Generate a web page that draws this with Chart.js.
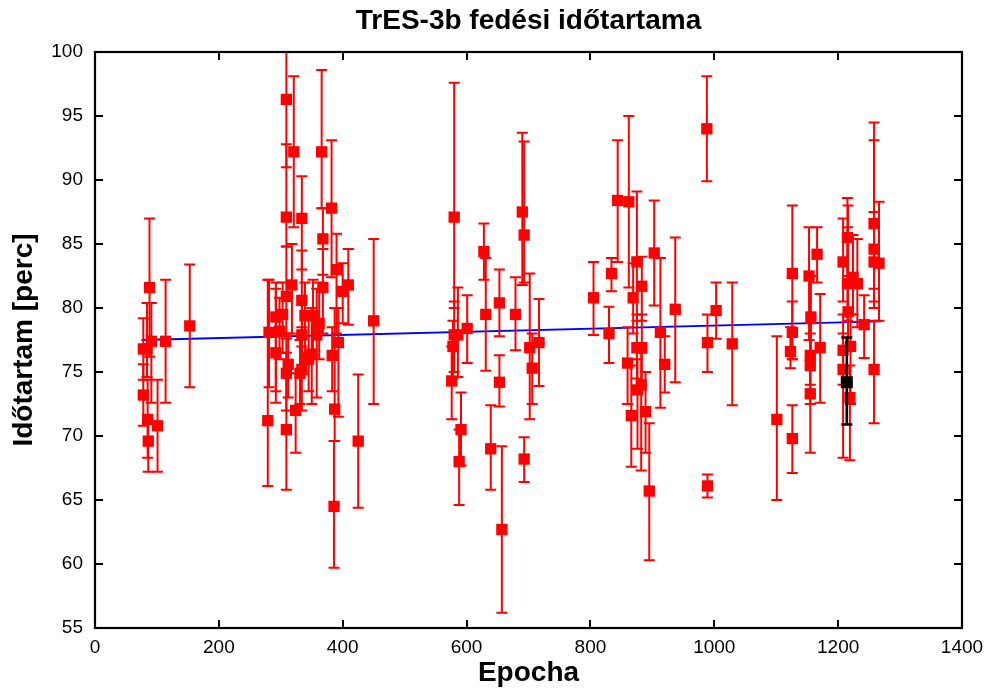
<!DOCTYPE html>
<html>
<head>
<meta charset="utf-8">
<script src="https://cdn.jsdelivr.net/npm/chart.js@4.4.1/dist/chart.umd.min.js"></script>
<style>
  html, body { margin: 0; padding: 0; background: #ffffff; }
  #wrap { width: 985px; height: 690px; }
</style>
</head>
<body>
<div id="wrap"><canvas id="c" width="985" height="690"></canvas></div>
<script>
// ---- data ----
const epochs = [
  78, 78, 88, 84, 91, 85, 86, 101, 114, 153,
  281, 279, 292, 292, 298, 303, 309, 309, 309, 309, 309, 312, 318, 321, 324,
  334, 334, 334, 334, 331, 339, 345, 350, 352, 358, 362, 366, 368, 368, 382,
  383, 387, 386, 390, 393, 400, 409, 425, 450,
  580, 580, 576, 578, 586, 591, 588, 601, 628, 631, 639, 653, 653, 657, 679,
  690, 693, 693, 702, 706, 717,
  805, 830, 834, 844, 862, 860, 866, 869, 875, 875, 876, 883, 883, 882, 889,
  895, 903, 913, 920, 937, 988, 989, 989, 1003, 1029,
  1101, 1126, 1126, 1123, 1126, 1153, 1156, 1155, 1155, 1155, 1166, 1171,
  1208, 1208, 1208, 1215, 1215, 1216, 1224, 1231, 1220, 1219, 1242,
  1258, 1258, 1258, 1266, 1258
];
const durations = [
  76.8, 73.2, 81.6, 76.8, 77.4, 71.3, 69.6, 70.8, 77.4, 78.6,
  78.1, 71.2, 79.3, 76.5, 78.2, 79.5, 96.3, 87.1, 80.9, 70.5, 74.9, 75.6, 81.8, 92.2, 72.0,
  87.0, 80.6, 75.2, 77.9, 74.9, 79.4, 76.0, 76.4, 79.4, 77.9, 78.8, 92.2, 85.4, 81.6, 87.8,
  76.3, 72.1, 64.5, 83.0, 77.3, 81.3, 81.8, 69.6, 79.0,
  87.1, 77.9, 74.3, 77.0, 77.9, 70.5, 68.0, 78.4, 84.4, 79.5, 69.0, 80.4, 74.2, 62.7, 79.5,
  87.5, 85.7, 68.2, 76.9, 75.3, 77.3,
  80.8, 78.0, 82.7, 88.4, 88.3, 75.7, 71.6, 80.8, 83.6, 76.9, 73.6, 81.7, 76.9, 74.0, 71.9,
  65.7, 84.3, 78.1, 75.6, 79.9, 94.0, 77.3, 66.1, 79.8, 77.2,
  71.3, 82.7, 78.1, 76.6, 69.8, 82.5, 79.3, 76.3, 75.5, 73.3, 84.2, 76.9,
  83.6, 76.7, 75.2, 85.5, 81.9, 79.7, 82.4, 81.9, 77.0, 73.0, 78.7,
  86.6, 84.6, 83.6, 83.5, 75.2
];
const errLow = [
  74.4, 70.8, 76.2, 74.6, 72.6, 68.3, 67.2, 67.2, 72.6, 73.8,
  73.8, 66.1, 73.5, 72.6, 76.0, 76.5, 91.0, 84.8, 77.8, 65.8, 72.0, 73.0, 78.0, 86.3, 68.7,
  83.0, 77.0, 72.0, 75.0, 72.5, 76.5, 73.5, 72.5, 76.3, 73.0, 76.0, 87.8, 82.6, 78.0, 82.4,
  73.5, 69.6, 59.7, 78.0, 71.5, 78.8, 78.7, 64.4, 72.5,
  80.0, 75.0, 71.3, 74.5, 74.6, 67.7, 64.6, 75.7, 82.2, 75.1, 65.8, 77.8, 72.3, 56.2, 76.7,
  81.8, 82.0, 66.4, 71.3, 72.5, 73.9,
  77.9, 75.7, 81.3, 83.6, 81.6, 72.5, 67.6, 78.0, 79.0, 74.5, 69.0, 79.0, 74.0, 67.3, 68.7,
  60.3, 80.2, 72.2, 73.4, 74.2, 89.9, 75.0, 65.2, 77.6, 72.4,
  65.0, 76.0, 76.0, 75.3, 67.1, 77.5, 76.5, 74.0, 72.5, 68.7, 82.0, 72.6,
  80.5, 74.0, 68.3, 82.5, 79.0, 77.0, 79.5, 78.5, 72.5, 68.1, 76.1,
  80.0, 81.5, 80.5, 79.0, 71.0
];
const errHigh = [
  79.2, 75.6, 87.0, 80.4, 80.4, 74.4, 71.3, 74.4, 82.2, 83.4,
  82.2, 82.2, 82.0, 81.5, 80.8, 82.0, 100.0, 92.8, 84.8, 76.5, 77.6, 78.0, 85.0, 98.1, 74.9,
  90.3, 84.5, 78.5, 80.8, 77.5, 82.0, 79.5, 80.0, 82.2, 81.5, 82.0, 98.6, 87.8, 84.6, 93.1,
  78.5, 80.0, 69.6, 85.8, 80.0, 83.5, 84.6, 74.8, 85.4,
  97.6, 80.5, 77.0, 79.0, 81.6, 73.4, 70.5, 81.0, 86.6, 83.9, 72.4, 83.0, 76.3, 69.2, 82.4,
  93.7, 93.0, 69.9, 82.7, 78.0, 80.7,
  83.6, 80.1, 83.9, 93.1, 95.0, 78.5, 75.5, 83.5, 89.1, 79.5, 76.0, 84.0, 79.5, 76.5, 75.0,
  71.0, 88.4, 83.9, 77.8, 85.5, 98.1, 79.5, 67.0, 82.0, 82.0,
  77.8, 88.0, 80.5, 78.5, 72.4, 86.3, 82.5, 78.8, 78.0, 76.0, 86.3, 81.1,
  87.0, 79.5, 78.0, 88.6, 86.3, 88.0, 85.7, 85.4, 79.5, 75.5, 81.0,
  94.5, 93.1, 87.5, 88.3, 79.0
];
// highlighted (black) measurement
const newEpoch = [1214];
const newDuration = [74.2];
const newErrLow = [70.9];
const newErrHigh = [77.7];
// fitted trend line
const trendX = [75, 1270];
const trendY = [77.5, 78.95];
// axis ticks
const xTicks = [0, 200, 400, 600, 800, 1000, 1200, 1400];
const yTicks = [55, 60, 65, 70, 75, 80, 85, 90, 95, 100];

const toXY = (xs, ys) => xs.map((x, i) => ({ x: x, y: ys[i] }));

const errorBarPlugin = {
  id: 'errorBars',
  beforeDatasetDraw(chart, args) {
    const ds = chart.data.datasets[args.index];
    if (!ds.errLow) return;
    const xs = chart.scales.x, ys = chart.scales.y;
    const ctx = chart.ctx;
    const area = chart.chartArea;
    ctx.save();
    ctx.beginPath();
    ctx.rect(area.left, area.top - 1, area.right - area.left, area.bottom - area.top + 2);
    ctx.clip();
    ctx.strokeStyle = ds.errColor;
    ctx.lineWidth = ds.errWidth;
    const cap = 5.5;
    ds.data.forEach((p, i) => {
      const px = xs.getPixelForValue(p.x);
      const pLo = ys.getPixelForValue(ds.errLow[i]);
      const pHi = ys.getPixelForValue(ds.errHigh[i]);
      ctx.beginPath();
      ctx.moveTo(px, pLo); ctx.lineTo(px, pHi);
      ctx.moveTo(px - cap, pLo); ctx.lineTo(px + cap, pLo);
      ctx.moveTo(px - cap, pHi); ctx.lineTo(px + cap, pHi);
      ctx.stroke();
    });
    ctx.restore();
  }
};

const framePlugin = {
  id: 'frame',
  afterDraw(chart) {
    const { ctx, chartArea: a } = chart;
    const xs = chart.scales.x, ys = chart.scales.y;
    ctx.save();
    ctx.strokeStyle = '#000';
    ctx.lineWidth = 2;
    ctx.beginPath();
    const tl = 8;
    xTicks.forEach(v => {
      const px = Math.round(xs.getPixelForValue(v));
      ctx.moveTo(px, a.bottom); ctx.lineTo(px, a.bottom - tl);
      ctx.moveTo(px, a.top); ctx.lineTo(px, a.top + tl);
    });
    yTicks.forEach(v => {
      const py = Math.round(ys.getPixelForValue(v));
      ctx.moveTo(a.left, py); ctx.lineTo(a.left + tl, py);
      ctx.moveTo(a.right, py); ctx.lineTo(a.right - tl, py);
    });
    ctx.stroke();
    ctx.lineWidth = 2.2;
    ctx.strokeRect(a.left, a.top, a.right - a.left, a.bottom - a.top);
    ctx.restore();
  }
};

Chart.defaults.font.family = '"Liberation Sans", Arial, sans-serif';
Chart.defaults.color = '#000';

new Chart(document.getElementById('c'), {
  type: 'scatter',
  data: {
    datasets: [
      {
        label: 'trend',
        type: 'line',
        data: toXY(trendX, trendY),
        borderColor: '#0000ff',
        borderWidth: 1.8,
        pointRadius: 0,
        fill: false,
        order: 3
      },
      {
        label: 'Időtartam',
        data: toXY(epochs, durations),
        errLow: errLow,
        errHigh: errHigh,
        errColor: '#ff0000',
        errWidth: 2,
        pointStyle: 'rect',
        pointRadius: 8,
        pointHoverRadius: 8,
        backgroundColor: '#ff0000',
        borderColor: '#ff0000',
        borderWidth: 0,
        order: 2
      },
      {
        label: 'új mérés',
        data: toXY(newEpoch, newDuration),
        errLow: newErrLow,
        errHigh: newErrHigh,
        errColor: '#000000',
        errWidth: 2.6,
        pointStyle: 'rect',
        pointRadius: 8.5,
        pointHoverRadius: 8.5,
        backgroundColor: '#000000',
        borderColor: '#000000',
        borderWidth: 0,
        order: 1
      }
    ]
  },
  options: {
    responsive: false,
    animation: false,
    events: [],
    layout: { padding: { left: 0, right: 23, top: 0, bottom: 0 } },
    plugins: {
      legend: { display: false },
      tooltip: { enabled: false },
      title: {
        display: true,
        text: 'TrES-3b fedési időtartama',
        fullSize: false,
        font: { size: 28, weight: 'bold' },
        color: '#000',
        padding: { top: 4, bottom: 14.4 }
      }
    },
    scales: {
      x: {
        type: 'linear',
        min: 0, max: 1400,
        afterBuildTicks: s => { s.ticks = xTicks.map(v => ({ value: v })); },
        afterFit: s => { s.height = 62; s.paddingLeft = 0; s.paddingRight = 0; },
        grid: { display: false, drawTicks: false },
        border: { display: false },
        ticks: { font: { size: 19 }, padding: 8, maxRotation: 0, color: '#000', callback: v => String(v) },
        title: { display: true, text: 'Epocha', font: { size: 28, weight: 'bold' }, padding: { top: 0, bottom: 0 }, color: '#000' }
      },
      y: {
        type: 'linear',
        min: 55, max: 100,
        afterBuildTicks: s => { s.ticks = yTicks.map(v => ({ value: v })); },
        afterFit: s => { s.width = 95; s.paddingTop = 0; s.paddingBottom = 0; },
        grid: { display: false, drawTicks: false },
        border: { display: false },
        ticks: { font: { size: 19 }, padding: 12, color: '#000', callback: v => String(v) },
        title: { display: true, text: 'Időtartam [perc]', font: { size: 28, weight: 'bold' }, padding: { top: 7, bottom: 0 }, color: '#000' }
      }
    }
  },
  plugins: [errorBarPlugin, framePlugin]
});
</script>
</body>
</html>
